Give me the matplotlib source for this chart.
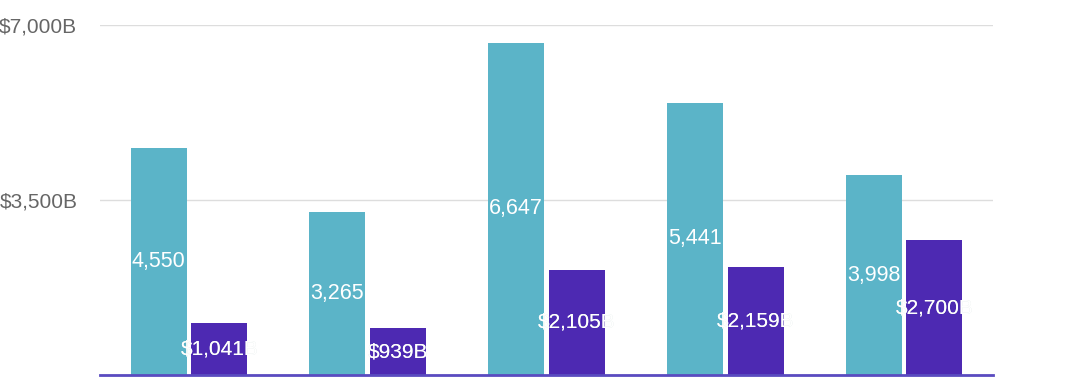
import matplotlib.pyplot as plt
import numpy as np

# values in $B
groups = np.arange(5)
cyan_vals = [4550, 3265, 6647, 5441, 3998]
purple_vals = [1041, 939, 2105, 2159, 2700]
yticks = [0, 3500, 7000]
ytick_labels = ['', '$3,500B', '$7,000B']

cyan = '#5bb4c8'
purple = '#4d29b2'

plt.rcParams['font.family'] = ['Liberation Sans', 'DejaVu Sans']

fig = plt.figure(figsize=(10.8, 3.84), dpi=100)
ax = fig.add_axes([99.6 / 1080, 9 / 384, 893.75 / 1080, 350 / 384])

w = 0.313
off = 0.17
b1 = ax.bar(groups - off, cyan_vals, width=w, color=cyan, zorder=2)
b2 = ax.bar(groups + off, purple_vals, width=w, color=purple, zorder=2)

ax.set_xlim(-0.5, 4.5)
ax.set_ylim(0, 7000)
ax.set_yticks(yticks)
ax.set_yticklabels(ytick_labels)
ax.set_xticks([])
ax.tick_params(axis='y', length=0, pad=16, labelsize=15, labelcolor='#666666')
ax.grid(axis='y', color='#dddddd', linewidth=1, zorder=0)
for s in ['top', 'right', 'left']:
    ax.spines[s].set_visible(False)
ax.spines['bottom'].set_color('#5a4bc0')
ax.spines['bottom'].set_linewidth(2)
ax.spines['bottom'].set_zorder(3)

# labels: light where they spill on white, white inside the bar
for bar, v in zip(b1, cyan_vals):
    x = bar.get_x() + bar.get_width() / 2
    ax.text(x, v / 2, f'{v:,}', ha='center', va='center', color='white',
            fontsize=15.5, zorder=4)

for bar, v in zip(b2, purple_vals):
    x = bar.get_x() + bar.get_width() / 2
    lab = f'${v:,}B'
    ax.text(x, v / 2, lab, ha='center', va='center', color='#dde8e5',
            fontsize=15, zorder=4)
    t = ax.text(x, v / 2, lab, ha='center', va='center', color='white',
                fontsize=15, zorder=5)
    t.set_clip_path(bar)

fig.savefig('out.png', dpi=100)
